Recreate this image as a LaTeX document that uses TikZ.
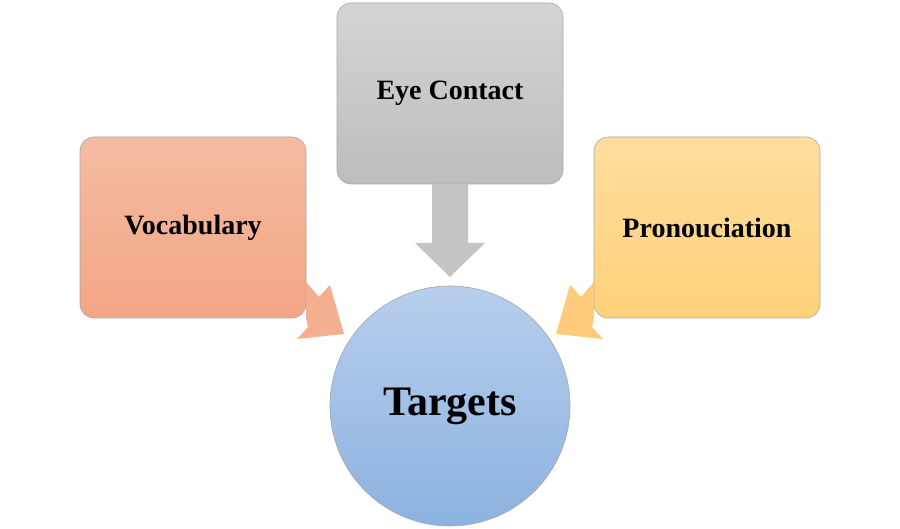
\documentclass[tikz,border=0pt]{standalone}
\usepackage{fontspec}
\setmainfont{Liberation Serif}
\definecolor{vt}{RGB}{245,188,162}\definecolor{vb}{RGB}{242,165,133}
\definecolor{et}{RGB}{212,212,212}\definecolor{eb}{RGB}{190,189,190}
\definecolor{pt}{RGB}{254,221,157}\definecolor{pb}{RGB}{255,210,122}
\definecolor{ct}{RGB}{183,206,236}\definecolor{cb}{RGB}{140,178,224}
\definecolor{ga}{RGB}{196,196,196}\definecolor{oa}{RGB}{244,174,144}\definecolor{ya}{RGB}{253,203,122}
\begin{document}
\begin{tikzpicture}[x=1pt,y=-1pt,
 box/.style={draw=gray!70,line width=0.6pt,rounded corners=14pt,minimum width=226pt,minimum height=181pt,font=\bfseries\fontsize{28}{30}\selectfont}]
\useasboundingbox (0,0) rectangle (900,529);
\node[box,top color=vt,bottom color=vb] (voc) at (193,227.5) {Vocabulary};
\node[box,top color=et,bottom color=eb] (eye) at (450,93.5) {Eye Contact};
\node[box,top color=pt,bottom color=pb] (pro) at (707,227.5) {Pronouciation};
\node[circle,draw=gray!70,line width=0.6pt,minimum size=240pt,top color=ct,bottom color=cb,font=\bfseries\fontsize{42}{44}\selectfont] (tgt) at (450,406) {Targets};
\fill[ga] (432,184) -- (468,184) -- (468,243) -- (485,243) -- (450,277) -- (415,243) -- (432,243) -- cycle;
\fill[oa] (306,282) -- (319,297) -- (330,285) -- (344,334) -- (297,339) -- (308,327) -- (306,318) -- cycle;
\fill[ya] (594,282) -- (581,297) -- (570,285) -- (556,334) -- (603,339) -- (592,327) -- (594,318) -- cycle;
\end{tikzpicture}
\end{document}
